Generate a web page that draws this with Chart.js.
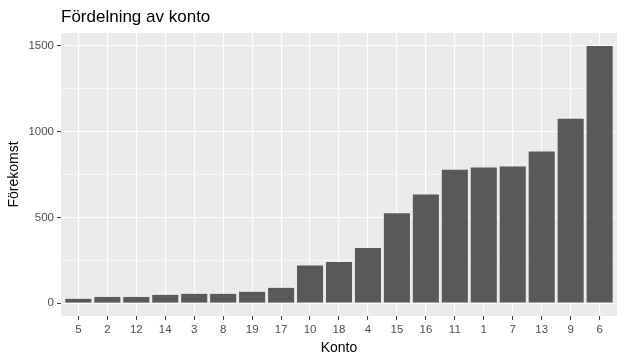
<!DOCTYPE html>
<html>
<head>
<meta charset="utf-8">
<script src="https://cdn.jsdelivr.net/npm/chart.js@4"></script>
<style>
  html, body { margin: 0; padding: 0; background: #fff; }
  #chart { display: block; }
</style>
</head>
<body>
<canvas id="chart" width="625" height="361"></canvas>
<script>
// Data
const konton = ['5', '2', '12', '14', '3', '8', '19', '17', '10', '18', '4', '15', '16', '11', '1', '7', '13', '9', '6'];
const forekomst = [25, 36, 36, 48, 54, 54, 66, 89, 220, 240, 321, 524, 633, 778, 791, 797, 884, 1075, 1499];
const yTicks = [0, 250, 500, 750, 1000, 1250, 1500];

const FONT = '"Liberation Sans", Arial, sans-serif';

// ggplot-like grey panel + title
const panelPlugin = {
    id: 'panel',
    beforeDraw(chart) {
        const { ctx, chartArea: a } = chart;
        ctx.save();
        ctx.fillStyle = '#EBEBEB';
        ctx.fillRect(a.left, a.top, a.right - a.left, a.bottom - a.top);
        ctx.restore();
    },
    afterDraw(chart) {
        const { ctx, chartArea: a } = chart;
        ctx.save();
        ctx.fillStyle = '#000000';
        ctx.font = '17px ' + FONT;
        ctx.textAlign = 'left';
        ctx.textBaseline = 'alphabetic';
        ctx.fillText('Fördelning av konto', a.left, 22);
        ctx.restore();
    }
};

const isMajor = v => v % 500 === 0;

// discrete positions 1..n, with ggplot's 0.6 expansion on each side
const points = forekomst.map((v, i) => ({ x: i + 1, y: v }));

new Chart(document.getElementById('chart').getContext('2d'), {
    type: 'bar',
    data: {
        datasets: [{
            data: points,
            backgroundColor: '#595959',
            borderWidth: 0,
            categoryPercentage: 0.9,
            barPercentage: 1.0
        }]
    },
    options: {
        responsive: false,
        animation: false,
        layout: { padding: { left: 0, right: 8, top: 33, bottom: 0 } },
        plugins: {
            legend: { display: false },
            title: { display: false },
            tooltip: { enabled: false }
        },
        scales: {
            x: {
                type: 'linear',
                offset: false,
                min: 0.4,
                max: konton.length + 0.6,
                afterBuildTicks(scale) {
                    scale.ticks = konton.map((_, i) => ({ value: i + 1 }));
                },
                grid: {
                    offset: false,
                    color: '#FFFFFF',
                    lineWidth: 1.1,
                    drawTicks: true,
                    tickLength: 4,
                    tickColor: '#333333',
                    tickWidth: 1
                },
                border: { display: false },
                ticks: {
                    color: '#4D4D4D',
                    font: { family: FONT, size: 11.5 },
                    maxRotation: 0,
                    autoSkip: false,
                    padding: 3,
                    callback: v => konton[v - 1]
                },
                title: {
                    display: true,
                    text: 'Konto',
                    color: '#000000',
                    font: { family: FONT, size: 14 },
                    padding: { top: 0, bottom: 4 }
                },
                afterFit(scale) { scale.height = 45; }
            },
            y: {
                min: -75,
                max: 1575,
                afterBuildTicks(scale) {
                    scale.ticks = yTicks.map(v => ({ value: v }));
                },
                grid: {
                    color: '#FFFFFF',
                    lineWidth: ctx => (ctx.tick && isMajor(ctx.tick.value)) ? 1.1 : 0.55,
                    drawTicks: true,
                    tickLength: 4,
                    tickColor: ctx => (ctx.tick && isMajor(ctx.tick.value)) ? '#333333' : 'rgba(0,0,0,0)',
                    tickWidth: 1
                },
                border: { display: false },
                ticks: {
                    color: '#4D4D4D',
                    font: { family: FONT, size: 11.5 },
                    padding: 3,
                    callback: v => isMajor(v) ? String(v) : ''
                },
                title: {
                    display: true,
                    text: 'Förekomst',
                    color: '#000000',
                    font: { family: FONT, size: 14 },
                    padding: { top: 6, bottom: 0 }
                },
                afterFit(scale) { scale.width = 61; }
            }
        }
    },
    plugins: [panelPlugin]
});
</script>
</body>
</html>
